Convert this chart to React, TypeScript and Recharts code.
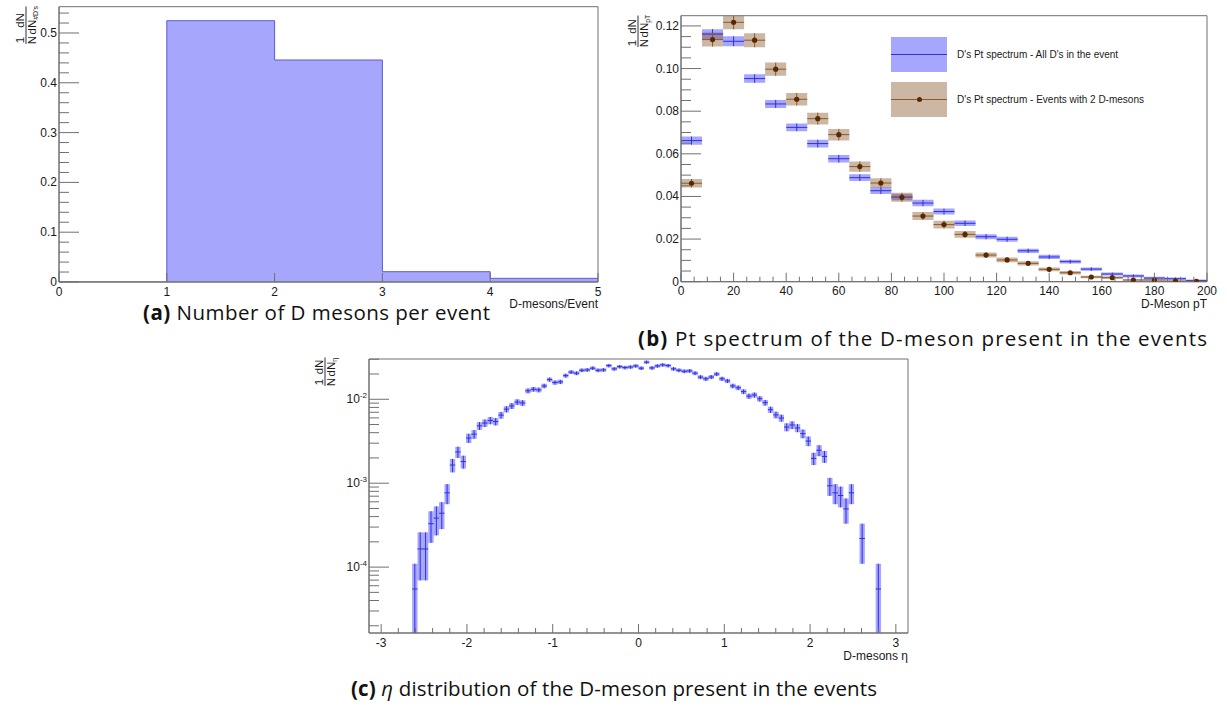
import React from 'react';
import { ComposedChart, Area, Scatter, XAxis, YAxis, ReferenceArea, ReferenceLine, Legend } from 'recharts';

const FONT = '"Liberation Sans", Arial, sans-serif';
const CAPTION_FONT = '"Open Sans", "Liberation Sans", sans-serif';
const AXIS = '#707070';
const INK = '#1a1a1a';
const BLUE_BOX = 'rgba(77, 77, 255, 0.5)';
const BLUE_LINE = '#3030e0';
const BROWN_BOX = 'rgba(140, 95, 50, 0.45)';
const BROWN_LINE = '#8b5a2b';
const BROWN_DOT = '#5a2800';

// (a) number of D mesons per event, bins [n, n+1)
const nBinLow = [0, 1, 2, 3, 4];
const nFrac = [0, 0.5247, 0.4458, 0.0207, 0.0074];

// (b) pT spectrum, 8 GeV bins
const ptCenters = [4, 12, 20, 28, 36, 44, 52, 60, 68, 76, 84, 92, 100, 108, 116, 124, 132, 140, 148, 156, 164, 172, 180, 188, 196];
const ptAll = [0.0662, 0.1162, 0.1128, 0.0953, 0.0834, 0.0724, 0.0648, 0.0577, 0.0488, 0.0427, 0.0397, 0.0369, 0.0329, 0.0274, 0.0211, 0.0199, 0.0145, 0.0116, 0.0094, 0.0059, 0.0036, 0.0027, 0.0017, 0.0014, 0.0005];
const ptAllErr = [0.0019, 0.0023, 0.0023, 0.002, 0.0019, 0.0018, 0.0018, 0.0018, 0.0016, 0.0016, 0.0015, 0.0015, 0.0014, 0.0013, 0.0012, 0.0012, 0.001, 0.001, 0.0009, 0.0008, 0.0007, 0.0007, 0.0006, 0.0006, 0.0005];
const pt2D = [0.0462, 0.1136, 0.1217, 0.1133, 0.0997, 0.0856, 0.0765, 0.069, 0.054, 0.0463, 0.0396, 0.0308, 0.0268, 0.0222, 0.0125, 0.0102, 0.0086, 0.0058, 0.0042, 0.0022, 0.0019, 0.0008, 0.0008, 0.0003, 0.0002];
const pt2DErr = [0.002, 0.0033, 0.0033, 0.0033, 0.0031, 0.0029, 0.0028, 0.0027, 0.0024, 0.0022, 0.0021, 0.0019, 0.0018, 0.0016, 0.0012, 0.0011, 0.001, 0.0009, 0.0008, 0.0006, 0.0006, 0.0004, 0.0004, 0.0003, 0.0002];
const PT_BIN = 8;

// (c) eta, 100 bins on [-pi, pi], raw counts per bin
const etaCounts = [
  0, 0, 0, 0, 0, 0, 0, 0, 1, 3,
  3, 6, 7, 8, 14, 30, 43, 33, 63, 70,
  88, 95, 102, 99, 118, 139, 152, 169, 165, 230,
  240, 236, 263, 313, 289, 294, 349, 384, 373, 404,
  408, 428, 404, 408, 459, 420, 446, 435, 442, 455,
  428, 505, 431, 455, 468, 459, 420, 404, 393, 397,
  373, 335, 320, 336, 364, 320, 302, 263, 250, 225,
  199, 205, 185, 166, 137, 119, 109, 85, 90, 83,
  71, 58, 36, 45, 38, 17, 14, 13, 9, 14,
  0, 4, 0, 0, 1, 0, 0, 0, 0, 0,
];
const ETA_MIN = -Math.PI;
const ETA_MAX = Math.PI;

const A_YMAX = 0.5528;
const B_YMAX = 0.1248;
const C_YMIN = 1.64e-5;
const C_YMAX = 0.0302;

const near = (a: number, b: number) => Math.abs(a - b) <= Math.max(Math.abs(b) * 1e-6, 1e-12);
const isMajor = (v: number, list: number[]) => list.some((m) => near(v, m));

function bottomTick(majors: number[], fmt: (v: number) => React.ReactNode, long = 9, short = 5) {
  return (p: any) => {
    const v = p.payload.value;
    const major = isMajor(v, majors);
    const x = p.payload.coordinate ?? p.x;
    return (
      <g>
        <line x1={x} x2={x} y1={p.y} y2={p.y - (major ? long : short)} stroke={AXIS} />
        {major && (
          <text x={x} y={p.y + 13.5} textAnchor="middle" fontSize={12} fontFamily={FONT} fill={INK}>
            {fmt(v)}
          </text>
        )}
      </g>
    );
  };
}

function leftTick(majors: number[], fmt: (v: number) => React.ReactNode, long = 20, short = 10) {
  return (p: any) => {
    const v = p.payload.value;
    const major = isMajor(v, majors);
    const y = p.payload.coordinate ?? p.y;
    return (
      <g>
        <line x1={p.x} x2={p.x + (major ? long : short)} y1={y} y2={y} stroke={AXIS} />
        {major && (
          <text x={p.x - 2} y={y + 4} textAnchor="end" fontSize={12} fontFamily={FONT} fill={INK}>
            {fmt(v)}
          </text>
        )}
      </g>
    );
  };
}

// 1/N dN/dN_sub, written rotated like ROOT does
function FracTitle({ x, y, sub, subW }: { x: number; y: number; sub: React.ReactNode; subW: number }) {
  const denomW = 14 + subW;
  return (
    <g transform={`translate(${x},${y}) rotate(-90)`} fontFamily={FONT} fontSize={11.5} fill={INK}>
      <text x={4} y={-2.5} textAnchor="middle">1</text>
      <text x={4} y={9.5} textAnchor="middle">N</text>
      <line x1={0} x2={9.5 + denomW} y1={0} y2={0} stroke={INK} strokeWidth={0.9} />
      <text x={9.5 + denomW / 2} y={-2.5} textAnchor="middle">dN</text>
      <text x={9.5} y={9.5}>
        dN<tspan fontSize={7} dy={2}>{sub}</tspan>
      </text>
    </g>
  );
}

const axisTitle = (text: React.ReactNode, x: number, y: number) => () => (
  <text x={x} y={y} textAnchor="end" fontSize={12} fontFamily={FONT} fill={INK}>
    {text}
  </text>
);

// ---------- (a)
const stepData = [...nBinLow.map((x, i) => ({ x, v: nFrac[i] })), { x: 5, v: nFrac[nFrac.length - 1] }];
const aXTicks = [0, 1, 2, 3, 4, 5];
const aYMajor = [0, 0.1, 0.2, 0.3, 0.4, 0.5];
const aYTicks: number[] = [];
for (let k = 0; k <= 27; k++) aYTicks.push(Math.round(k * 2) / 100);

const ChartA = () => (
  <ComposedChart width={610} height={320} data={stepData} margin={{ top: 6.7, right: 12, bottom: 37, left: 58 }}>
    <XAxis
      type="number"
      dataKey="x"
      domain={[0, 5]}
      ticks={aXTicks}
      interval={0}
      height={1}
      tickSize={0}
      tickMargin={0}
      tickLine={false}
      axisLine={{ stroke: AXIS }}
      tick={bottomTick(aXTicks, (v) => String(v))}
      allowDataOverflow
      label={{ content: axisTitle('D-mesons/Event', 598, 308) }}
    />
    <YAxis
      type="number"
      domain={[0, A_YMAX]}
      ticks={aYTicks}
      interval={0}
      width={1}
      tickSize={0}
      tickMargin={0}
      tickLine={false}
      axisLine={{ stroke: AXIS }}
      tick={leftTick(aYMajor, (v) => (v === 0 ? '0' : String(v)))}
      allowDataOverflow
      label={{ content: () => <FracTitle x={26} y={44} sub="#D's" subW={14} /> }}
    />
    <Area
      type="stepAfter"
      dataKey="v"
      stroke="#5c5cd6"
      strokeWidth={1}
      fill="#a6a6fc"
      fillOpacity={1}
      isAnimationActive={false}
    />
    <ReferenceArea x1={0} x2={5} y1={0} y2={A_YMAX} fill="none" stroke={AXIS} ifOverflow="visible" />
  </ComposedChart>
);

// ---------- (b)
const bXTicks: number[] = [];
for (let k = 0; k <= 40; k++) bXTicks.push(k * 5);
const bXMajor = [0, 20, 40, 60, 80, 100, 120, 140, 160, 180, 200];
const bYTicks: number[] = [];
for (let k = 0; k <= 24; k++) bYTicks.push(Math.round(k * 5) / 1000);
const bYMajor = [0, 0.02, 0.04, 0.06, 0.08, 0.1, 0.12];

const histRows = (vals: number[], errs: number[]) =>
  ptCenters.map((c, i) => ({ lo: c - PT_BIN / 2, hi: c + PT_BIN / 2, x: c, y: vals[i], e: errs[i] }));
const blueRows = histRows(ptAll, ptAllErr);
const brownRows = histRows(pt2D, pt2DErr);

const boxes = (rows: any[], fill: string, ymin: number, key: string) =>
  rows.map((r, i) => (
    <ReferenceArea
      key={`${key}-box-${i}`}
      x1={r.lo}
      x2={r.hi}
      y1={Math.max(r.y - r.e, ymin)}
      y2={r.y + r.e}
      fill={fill}
      fillOpacity={1}
      stroke="none"
      ifOverflow="hidden"
    />
  ));

const errLines = (rows: any[], color: string, ymin: number, key: string) =>
  rows.flatMap((r, i) => [
    <ReferenceLine
      key={`${key}-h-${i}`}
      segment={[{ x: r.lo, y: r.y }, { x: r.hi, y: r.y }]}
      stroke={color}
      strokeWidth={1}
      ifOverflow="hidden"
    />,
    <ReferenceLine
      key={`${key}-v-${i}`}
      segment={[{ x: r.x, y: Math.max(r.y - r.e, ymin) }, { x: r.x, y: r.y + r.e }]}
      stroke={color}
      strokeWidth={1}
      ifOverflow="hidden"
    />,
  ]);

const LEGEND_ROWS = [
  { label: "D's Pt spectrum - All D's in the event", fill: BLUE_BOX, line: BLUE_LINE, dot: false },
  { label: "D's Pt spectrum - Events with 2 D-mesons", fill: BROWN_BOX, line: BROWN_LINE, dot: true },
];

const PtLegend = () => (
  <div style={{ fontFamily: FONT, fontSize: 10, color: INK }}>
    {LEGEND_ROWS.map((r) => (
      <div key={r.label} style={{ display: 'flex', alignItems: 'center', height: 35, marginBottom: 10 }}>
        <div style={{ position: 'relative', width: 56, height: 35, background: r.fill }}>
          <div style={{ position: 'absolute', left: 0, right: 0, top: 17, height: 1, background: r.line }} />
          {r.dot && (
            <div
              style={{
                position: 'absolute',
                left: 25.5,
                top: 15,
                width: 5,
                height: 5,
                borderRadius: '50%',
                background: BROWN_DOT,
              }}
            />
          )}
        </div>
        <span style={{ marginLeft: 10, whiteSpace: 'nowrap' }}>{r.label}</span>
      </div>
    ))}
  </div>
);

const ChartB = () => (
  <ComposedChart width={617} height={320} margin={{ top: 15.7, right: 20, bottom: 37.3, left: 70 }}>
    <XAxis
      type="number"
      dataKey="x"
      domain={[0, 200]}
      ticks={bXTicks}
      interval={0}
      height={1}
      tickSize={0}
      tickMargin={0}
      tickLine={false}
      axisLine={{ stroke: AXIS }}
      tick={bottomTick(bXMajor, (v) => String(v))}
      allowDataOverflow
      label={{ content: axisTitle('D-Meson pT', 597, 308) }}
    />
    <YAxis
      type="number"
      dataKey="y"
      domain={[0, B_YMAX]}
      ticks={bYTicks}
      interval={0}
      width={1}
      tickSize={0}
      tickMargin={0}
      tickLine={false}
      axisLine={{ stroke: AXIS }}
      tick={leftTick(bYMajor, (v) => (v === 0 ? '0' : v.toFixed(2)))}
      allowDataOverflow
      label={{ content: () => <FracTitle x={28} y={47} sub="pT" subW={8} /> }}
    />
    {boxes(blueRows, BLUE_BOX, 0, 'blue')}
    {errLines(blueRows, BLUE_LINE, 0, 'blue')}
    {boxes(brownRows, BROWN_BOX, 0, 'brown')}
    {errLines(brownRows, BROWN_LINE, 0, 'brown')}
    <Scatter
      data={brownRows}
      dataKey="y"
      isAnimationActive={false}
      shape={(p: any) => <circle cx={p.cx} cy={p.cy} r={2.6} fill={BROWN_DOT} />}
    />
    <ReferenceArea x1={0} x2={200} y1={0} y2={B_YMAX} fill="none" stroke={AXIS} ifOverflow="visible" />
    <Legend
      layout="vertical"
      align="center"
      verticalAlign="middle"
      wrapperStyle={{ left: 281, top: 37, width: 320, height: 90 }}
      content={() => <PtLegend />}
    />
  </ComposedChart>
);

// ---------- (c)
const etaTotal = etaCounts.reduce((s, c) => s + c, 0);
const etaW = (ETA_MAX - ETA_MIN) / etaCounts.length;
const etaRows = etaCounts
  .map((c, i) => ({
    lo: ETA_MIN + i * etaW,
    hi: ETA_MIN + (i + 1) * etaW,
    x: ETA_MIN + (i + 0.5) * etaW,
    y: c / etaTotal,
    e: Math.sqrt(c) / etaTotal,
    c,
  }))
  .filter((r) => r.c > 0);

const cXTicks: number[] = [];
for (let k = -15; k <= 15; k++) cXTicks.push(Math.round(k * 2) / 10);
const cXMajor = [-3, -2, -1, 0, 1, 2, 3];
const cYTicks: number[] = [];
for (let d = -5; d <= -2; d++) {
  for (let m = 1; m <= 9; m++) {
    const v = m * Math.pow(10, d);
    if (v >= C_YMIN && v <= C_YMAX) cYTicks.push(v);
  }
}
const cYMajor = [1e-4, 1e-3, 1e-2];

const ChartC = () => (
  <ComposedChart width={640} height={320} margin={{ top: 14, right: 22, bottom: 31, left: 78 }}>
    <XAxis
      type="number"
      dataKey="x"
      domain={[ETA_MIN, ETA_MAX]}
      ticks={cXTicks}
      interval={0}
      height={1}
      tickSize={0}
      tickMargin={0}
      tickLine={false}
      axisLine={{ stroke: AXIS }}
      tick={bottomTick(cXMajor, (v) => String(v))}
      allowDataOverflow
      label={{ content: axisTitle('D-mesons η', 618, 315) }}
    />
    <YAxis
      type="number"
      dataKey="y"
      scale="log"
      domain={[C_YMIN, C_YMAX]}
      ticks={cYTicks}
      interval={0}
      width={1}
      tickSize={0}
      tickMargin={0}
      tickLine={false}
      axisLine={{ stroke: AXIS }}
      tick={leftTick(cYMajor, (v) => (
        <>
          10<tspan fontSize={8} dy={-5}>{Math.round(Math.log10(v))}</tspan>
        </>
      ))}
      allowDataOverflow
      label={{ content: () => <FracTitle x={35} y={41} sub="η" subW={5} /> }}
    />
    {boxes(etaRows, BLUE_BOX, C_YMIN, 'eta')}
    {errLines(etaRows, BLUE_LINE, C_YMIN, 'eta')}
    <Scatter data={etaRows} dataKey="y" isAnimationActive={false} shape={() => <g />} />
    <ReferenceArea x1={ETA_MIN} x2={ETA_MAX} y1={C_YMIN} y2={C_YMAX} fill="none" stroke={AXIS} ifOverflow="visible" />
  </ComposedChart>
);

const CAPTIONS: { tag: string; body: React.ReactNode; x: number; y: number; w: number }[] = [
  { tag: '(a)', body: 'Number of D mesons per event', x: 143, y: 320, w: 347 },
  { tag: '(b)', body: 'Pt spectrum of the D-meson present in the events', x: 638, y: 346, w: 569 },
  {
    tag: '(c)',
    body: (
      <>
        <tspan fontStyle="italic">η</tspan> distribution of the D-meson present in the events
      </>
    ),
    x: 351,
    y: 696,
    w: 526,
  },
];

export default function App() {
  return (
    <div style={{ position: 'absolute', left: 0, top: 0, width: 1227, height: 707, background: '#fff' }}>
      <div style={{ position: 'absolute', left: 0, top: 0 }}>
        <ChartA />
      </div>
      <div style={{ position: 'absolute', left: 610, top: 0 }}>
        <ChartB />
      </div>
      <div style={{ position: 'absolute', left: 290, top: 345 }}>
        <ChartC />
      </div>
      <svg width={1227} height={707} style={{ position: 'absolute', left: 0, top: 0, pointerEvents: 'none' }}>
        {CAPTIONS.map((c) => (
          <text
            key={c.tag}
            x={c.x}
            y={c.y}
            textLength={c.w}
            lengthAdjust="spacing"
            fontFamily={CAPTION_FONT}
            fontSize={20.5}
            fill="#111"
          >
            <tspan fontWeight="bold">{c.tag}</tspan> {c.body}
          </text>
        ))}
      </svg>
    </div>
  );
}
